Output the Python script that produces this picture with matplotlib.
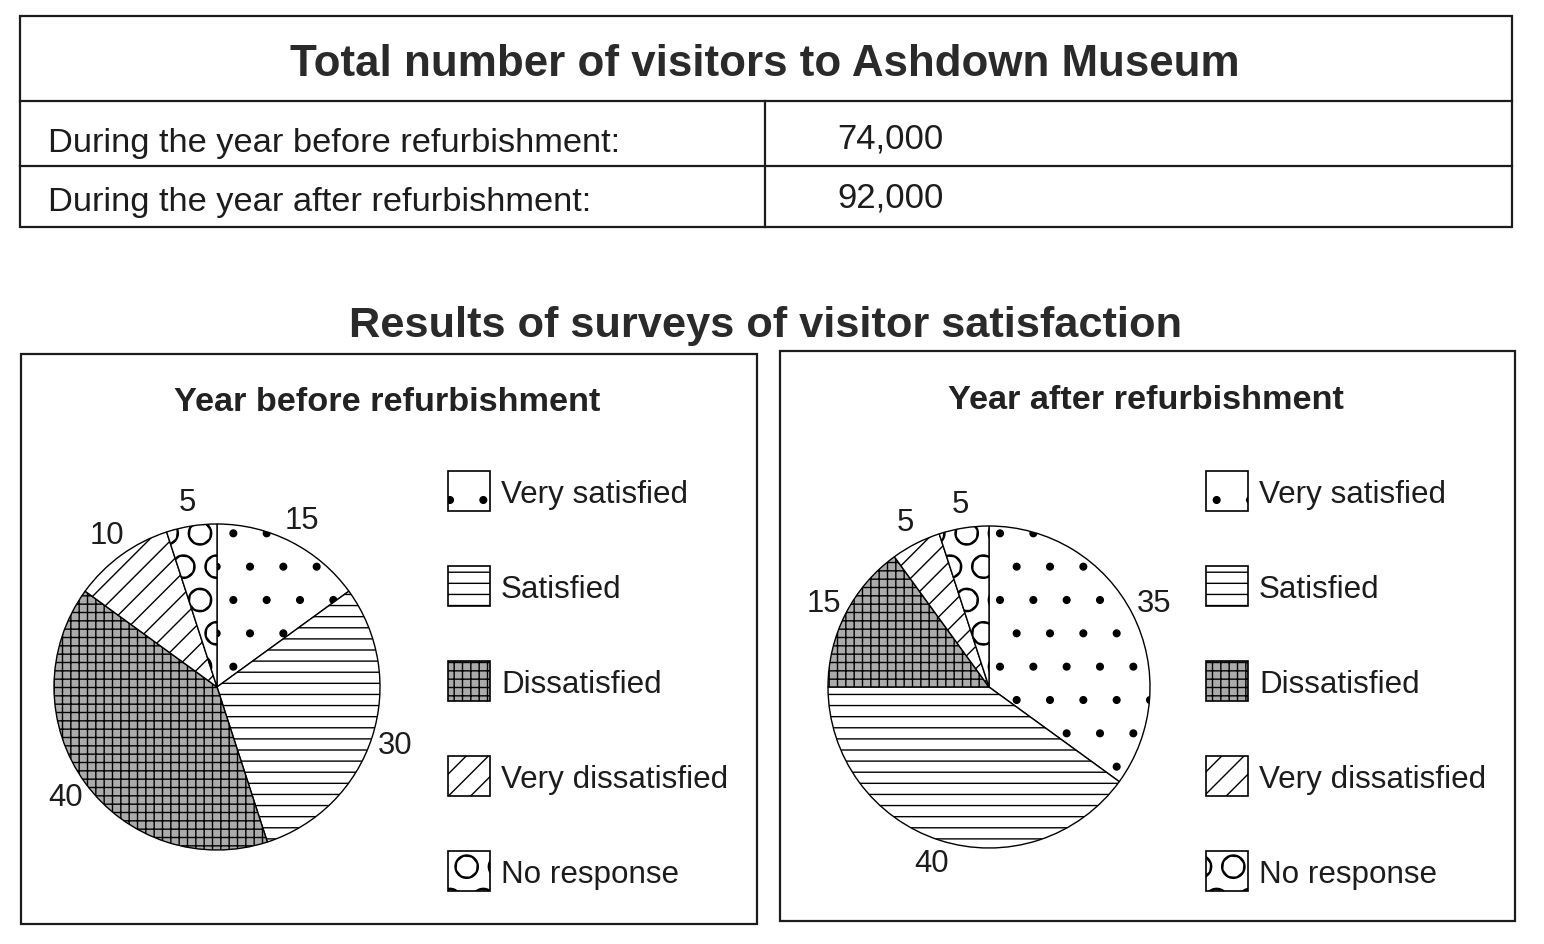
import matplotlib.pyplot as plt
from matplotlib.patches import Rectangle
from matplotlib.lines import Line2D

plt.rcParams['font.family'] = ['Liberation Sans', 'DejaVu Sans']
plt.rcParams['hatch.linewidth'] = 0.5

# --- data ---
table_title = "Total number of visitors to Ashdown Museum"
row_labels = ["During the year before refurbishment:", "During the year after refurbishment:"]
row_values = [74000, 92000]

survey_title = "Results of surveys of visitor satisfaction"
panel_titles = ["Year before refurbishment", "Year after refurbishment"]
categories = ["Very satisfied", "Satisfied", "Dissatisfied", "Very dissatisfied", "No response"]
before = [15, 30, 40, 10, 5]
after = [35, 40, 15, 5, 5]

# --- styles ---
hatches = ['.', '---', '++++', '///', 'O']
fills = ['white', 'white', '#ababab', 'white', 'white']
INK = '#1c1c1c'

W, H = 1544, 945
DPI = 200
fig = plt.figure(figsize=(W / DPI, H / DPI), dpi=DPI)


def fx(x):
    return x / W


def fy(y):
    return 1 - y / H


def line(x0, y0, x1, y1, lw=0.8):
    fig.add_artist(Line2D([fx(x0), fx(x1)], [fy(y0), fy(y1)],
                          transform=fig.transFigure, color=INK, lw=lw))


def box(x0, y0, x1, y1, lw=0.8):
    fig.add_artist(Rectangle((fx(x0), fy(y1)), fx(x1) - fx(x0), fy(y0) - fy(y1),
                             transform=fig.transFigure, fill=False,
                             edgecolor=INK, lw=lw))


# --- visitor table ---
box(20, 17, 1512, 228)
line(20, 102, 1512, 102)
line(20, 167, 1512, 167)
line(765, 102, 765, 228)
fig.text(fx(765), fy(76), table_title, ha='center', va='baseline',
         fontsize=15.8, fontweight='bold', color='#2a2a2a')
label_base = [152, 211]
value_base = [149, 208]
for lab, val, yb, yv in zip(row_labels, row_values, label_base, value_base):
    fig.text(fx(48), fy(yb), lab, ha='left', va='baseline', fontsize=12.4, color=INK)
    fig.text(fx(837), fy(yv), f"{val:,}", ha='left', va='baseline', fontsize=12.5, color=INK)

# --- survey section ---
fig.text(fx(766), fy(337), survey_title, ha='center', va='baseline',
         fontsize=15.6, fontweight='bold', color='#2a2a2a')

panels = [(21, 355, 757, 925), (780, 352, 1515, 922)]
title_pos = [(387, 411), (1146, 409)]
centers = [(217, 688), (989, 688)]
radii = [163, 161]
legend_x = [448, 1206]
legend_y0 = 492
legend_step = 95

for k, values in enumerate([before, after]):
    box(*panels[k])
    tx, ty = title_pos[k]
    fig.text(fx(tx), fy(ty), panel_titles[k], ha='center', va='baseline',
             fontsize=12.35, fontweight='bold', color='#222222')

    cx, cy = centers[k]
    r = radii[k]
    half = 1.25 * r
    ax = fig.add_axes([fx(cx - half), fy(cy + half), 2 * half / W, 2 * half / H])
    ax.pie(values, startangle=90, counterclock=False, colors=fills, hatch=hatches,
           wedgeprops=dict(edgecolor='black', linewidth=0.5),
           autopct='%.0f', pctdistance=1.15,
           textprops=dict(fontsize=11.2, color=INK))
    ax.set_xlim(-1.25, 1.25)
    ax.set_ylim(-1.25, 1.25)
    ax.set_aspect('equal')

    # legend
    lx = legend_x[k]
    for i, cat in enumerate(categories):
        yc = legend_y0 + i * legend_step
        fig.add_artist(Rectangle((fx(lx), fy(yc + 20)), 42 / W, 40 / H,
                                 transform=fig.transFigure, facecolor=fills[i],
                                 edgecolor='black', lw=0.6, hatch=hatches[i]))
        fig.text(fx(lx + 53), fy(yc + 11), cat, ha='left', va='baseline',
                 fontsize=11.3, color=INK)

fig.savefig('out.png', dpi=DPI, facecolor='white')
